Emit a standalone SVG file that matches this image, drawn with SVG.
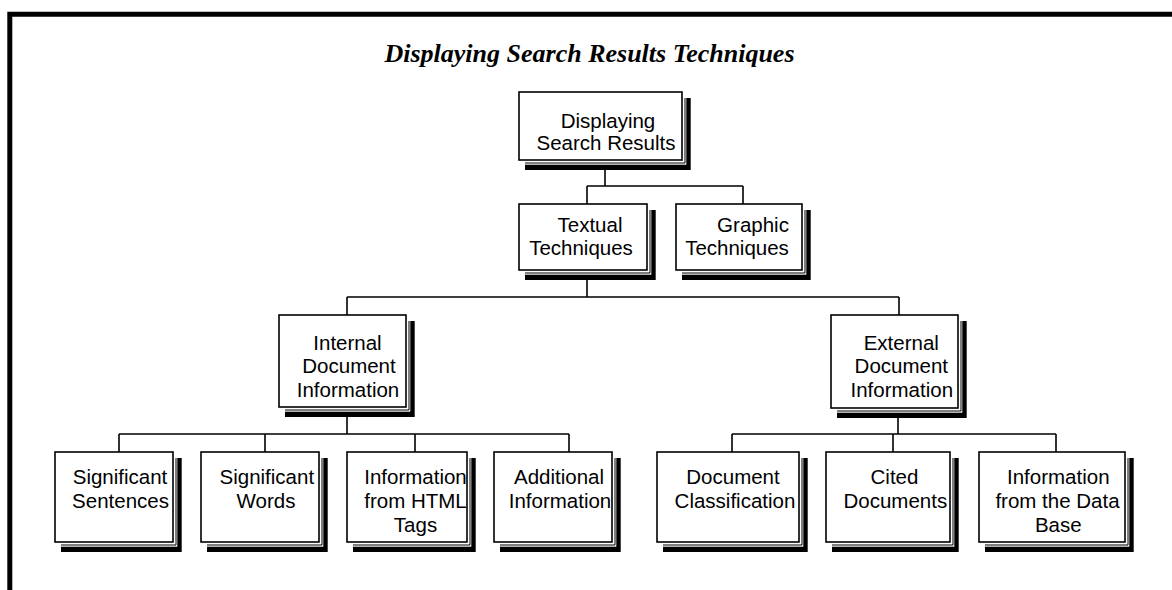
<svg xmlns="http://www.w3.org/2000/svg" width="1172" height="590" viewBox="0 0 1172 590">
<style>
.sh{fill:#000}
.shw{fill:#fff}
.shl{fill:none;stroke:#000;stroke-width:1}
.box{fill:#fff;stroke:#000;stroke-width:1.6}
.t{font-family:"Liberation Sans",Arial,sans-serif;font-size:20.5px;fill:#000;text-anchor:middle}
.title{font-family:"Liberation Serif","Times New Roman",serif;font-size:26px;font-weight:bold;font-style:italic;fill:#000;text-anchor:middle}
.c{fill:none;stroke:#000;stroke-width:1.6}
</style>
<rect x="0" y="0" width="1172" height="590" fill="#fff"/>
<path d="M9.8 590 V14.2 H1172" fill="none" stroke="#000" stroke-width="5"/>
<text class="title" x="589.5" y="62">Displaying Search Results Techniques</text>

<g id="connectors">
<path class="c" d="M605 170 V186 M587 186 H743 M587 186 V204 M743 186 V204"/>
<path class="c" d="M587 280 V297 M347 297 H899 M347 297 V315 M899 297 V315"/>
<path class="c" d="M347 417 V434 M119 434 H569 M119 434 V452 M265 434 V452 M415 434 V452 M569 434 V452"/>
<path class="c" d="M898 418 V434 M732 434 H1056 M732 434 V452 M893 434 V452 M1056 434 V452"/>
</g>

<g id="root">
<rect class="sh" x="525" y="98" width="165.7" height="72"/>
<rect class="shw" x="520" y="93" width="166.3" height="71.7"/>
<path class="shl" d="M525 163 H685 V98"/>
<rect class="box" x="519" y="92" width="163" height="68"/>
<text class="t" x="608" y="127.5">Displaying</text>
<text class="t" x="606" y="150">Search Results</text>
</g>

<g id="textual">
<rect class="sh" x="525" y="210" width="130.7" height="70"/>
<rect class="shw" x="520" y="205" width="131.3" height="69.7"/>
<path class="shl" d="M525 273 H650 V210"/>
<rect class="box" x="519" y="204" width="128" height="66"/>
<text class="t" x="590" y="231.5">Textual</text>
<text class="t" x="581" y="254.5">Techniques</text>
</g>

<g id="graphic">
<rect class="sh" x="682" y="210" width="128.7" height="70"/>
<rect class="shw" x="677" y="205" width="129.3" height="69.7"/>
<path class="shl" d="M682 273 H805 V210"/>
<rect class="box" x="676" y="204" width="126" height="66"/>
<text class="t" x="753" y="231.5">Graphic</text>
<text class="t" x="737" y="254.5">Techniques</text>
</g>

<g id="internal">
<rect class="sh" x="285" y="321" width="129.7" height="96"/>
<rect class="shw" x="280" y="316" width="130.3" height="95.7"/>
<path class="shl" d="M285 410 H409 V321"/>
<rect class="box" x="279" y="315" width="127" height="92"/>
<text class="t" x="347.5" y="350">Internal</text>
<text class="t" x="349" y="373.3">Document</text>
<text class="t" x="348" y="396.7">Information</text>
</g>

<g id="external">
<rect class="sh" x="837" y="321" width="129.7" height="97"/>
<rect class="shw" x="832" y="316" width="130.3" height="96.7"/>
<path class="shl" d="M837 411 H961 V321"/>
<rect class="box" x="831" y="315" width="127" height="93"/>
<text class="t" x="901.3" y="350">External</text>
<text class="t" x="901.3" y="373.3">Document</text>
<text class="t" x="901.8" y="396.7">Information</text>
</g>

<g id="sentences">
<rect class="sh" x="61" y="458" width="120.7" height="94"/>
<rect class="shw" x="56" y="453" width="121.3" height="93.7"/>
<path class="shl" d="M61 545 H176 V458"/>
<rect class="box" x="55" y="452" width="118" height="90"/>
<text class="t" x="120" y="484">Significant</text>
<text class="t" x="120.5" y="508">Sentences</text>
</g>

<g id="words">
<rect class="sh" x="207" y="458" width="120.7" height="94"/>
<rect class="shw" x="202" y="453" width="121.3" height="93.7"/>
<path class="shl" d="M207 545 H322 V458"/>
<rect class="box" x="201" y="452" width="118" height="90"/>
<text class="t" x="266.8" y="484">Significant</text>
<text class="t" x="266" y="508">Words</text>
</g>

<g id="html">
<rect class="sh" x="353" y="458" width="122.7" height="94"/>
<rect class="shw" x="348" y="453" width="123.3" height="93.7"/>
<path class="shl" d="M353 545 H470 V458"/>
<rect class="box" x="347" y="452" width="120" height="90"/>
<text class="t" x="415.5" y="484">Information</text>
<text class="t" x="415.5" y="508">from HTML</text>
<text class="t" x="415.5" y="532">Tags</text>
</g>

<g id="additional">
<rect class="sh" x="500" y="458" width="120.7" height="94"/>
<rect class="shw" x="495" y="453" width="121.3" height="93.7"/>
<path class="shl" d="M500 545 H615 V458"/>
<rect class="box" x="494" y="452" width="118" height="90"/>
<text class="t" x="559" y="484">Additional</text>
<text class="t" x="560" y="508">Information</text>
</g>

<g id="classification">
<rect class="sh" x="663" y="458" width="144.7" height="94"/>
<rect class="shw" x="658" y="453" width="145.3" height="93.7"/>
<path class="shl" d="M663 545 H802 V458"/>
<rect class="box" x="657" y="452" width="142" height="90"/>
<text class="t" x="733" y="484">Document</text>
<text class="t" x="735" y="508">Classification</text>
</g>

<g id="cited">
<rect class="sh" x="832" y="458" width="126.7" height="94"/>
<rect class="shw" x="827" y="453" width="127.3" height="93.7"/>
<path class="shl" d="M832 545 H953 V458"/>
<rect class="box" x="826" y="452" width="124" height="90"/>
<text class="t" x="894.5" y="484">Cited</text>
<text class="t" x="895.3" y="508">Documents</text>
</g>

<g id="database">
<rect class="sh" x="985" y="458" width="148.7" height="94"/>
<rect class="shw" x="980" y="453" width="149.3" height="93.7"/>
<path class="shl" d="M985 545 H1128 V458"/>
<rect class="box" x="979" y="452" width="146" height="90"/>
<text class="t" x="1058.3" y="484">Information</text>
<text class="t" x="1057.5" y="508">from the Data</text>
<text class="t" x="1058.3" y="532">Base</text>
</g>
</svg>
